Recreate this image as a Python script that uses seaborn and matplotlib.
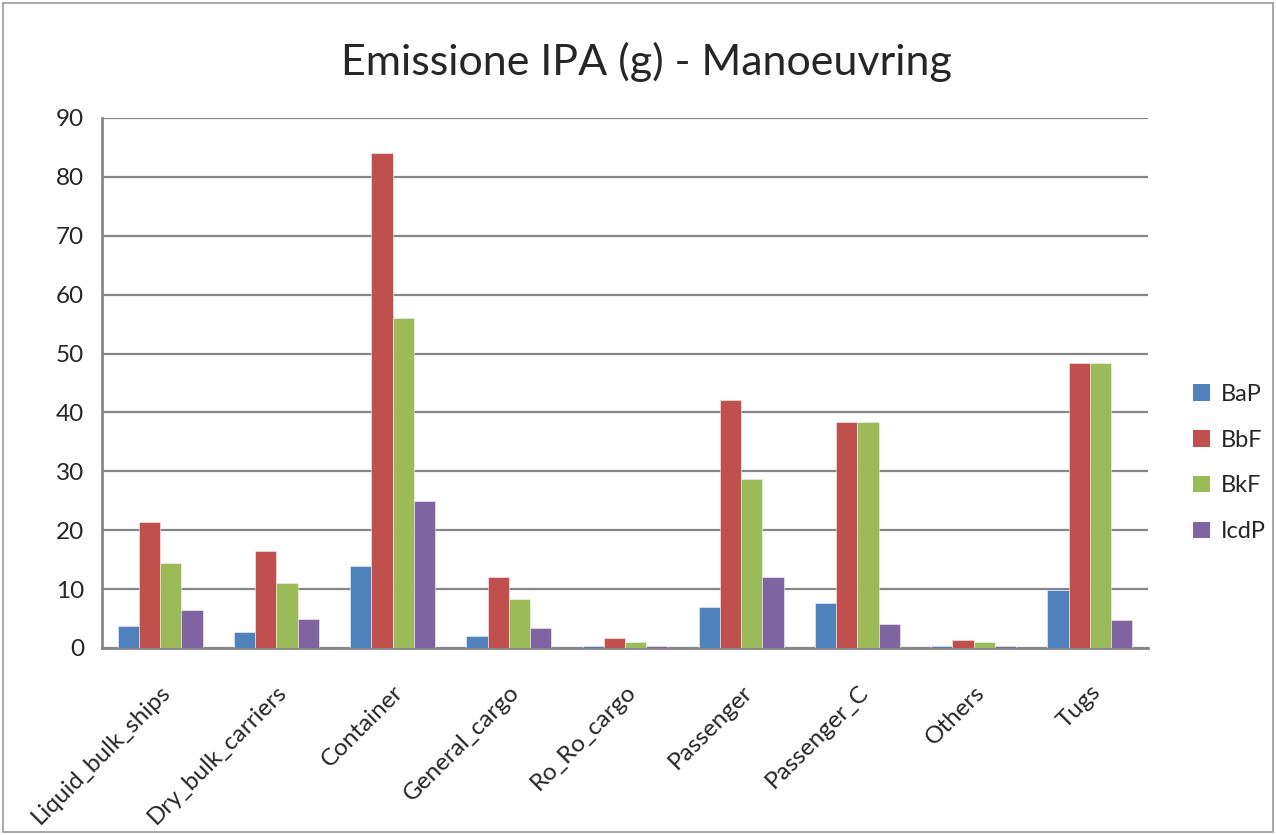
import matplotlib
matplotlib.use("Agg")
import matplotlib.pyplot as plt
import matplotlib.patches as mpatches
import seaborn as sns
import pandas as pd
import numpy as np

categories = ["Liquid_bulk_ships", "Dry_bulk_carriers", "Container", "General_cargo",
              "Ro_Ro_cargo", "Passenger", "Passenger_C", "Others", "Tugs"]
series = ["BaP", "BbF", "BkF", "IcdP"]
bap = [3.7, 2.8, 14.0, 2.1, 0.4, 7.0, 7.7, 0.4, 9.8]
bbf = [21.4, 16.4, 84.1, 12.0, 1.75, 42.1, 38.4, 1.4, 48.4]
bkf = [14.4, 11.1, 56.1, 8.4, 1.1, 28.7, 38.4, 1.0, 48.4]
icdp = [6.4, 5.0, 25.0, 3.45, 0.4, 12.0, 4.0, 0.4, 4.7]
colors = ["#4F81BD", "#C0504D", "#9BBB59", "#8064A2"]
title = "Emissione IPA (g) - Manoeuvring"

df = pd.DataFrame({
    "category": categories * 4,
    "series": sum([[s] * len(categories) for s in series], []),
    "value": bap + bbf + bkf + icdp,
})

sns.set_theme(style="white")
plt.rcParams["font.family"] = ["Lato", "DejaVu Sans"]

fig = plt.figure(figsize=(12.76, 8.35), dpi=100)
ax = fig.add_axes([102 / 1276, 1 - 648 / 835, (1148 - 102) / 1276, (648 - 118) / 835])

sns.barplot(data=df, x="category", y="value", hue="series", order=categories,
            hue_order=series, palette=colors, saturation=1, width=0.73, gap=0,
            edgecolor="#f4f4f4", linewidth=0.4, ax=ax, legend=False, zorder=3)

axis_grey = "#868686"
ax.set_ylim(0, 90)
ax.set_xlim(-0.5, len(categories) - 0.5)
ax.set_yticks(np.arange(0, 91, 10))
ax.yaxis.grid(True, color=axis_grey, linewidth=1.6, zorder=0)
ax.set_axisbelow(True)
for side in ["top", "right"]:
    ax.spines[side].set_visible(False)
for side in ["left", "bottom"]:
    ax.spines[side].set_color(axis_grey)
    ax.spines[side].set_linewidth(2.0)

ax.set_xlabel("")
ax.set_ylabel("")
ax.set_xticks(range(len(categories)))
ax.set_xticklabels(categories, rotation=45, ha="right", rotation_mode="anchor",
                   fontsize=17.5)
ax.set_xticks(np.arange(-0.5, len(categories), 1.0), minor=True)
ax.tick_params(axis="x", which="major", length=0, pad=24)
ax.tick_params(axis="x", which="minor", length=7, width=1.6, color=axis_grey, direction="out")
ax.tick_params(axis="y", length=7, width=1.6, color=axis_grey, direction="out",
               labelsize=17.5, pad=6)

fig.text(646 / 1276, 1 - 62 / 835, title, ha="center", va="center", fontsize=31)

handles = [mpatches.Patch(facecolor=c, edgecolor="none", label=s) for s, c in zip(series, colors)]
fig.legend(handles=handles, loc="center left", bbox_to_anchor=(1172 / 1276, 1 - 463 / 835),
           frameon=False, fontsize=17, handlelength=0.7, handleheight=0.7,
           labelspacing=1.05, handletextpad=0.45)

border = mpatches.Rectangle((3 / 1276, 3 / 835), 1 - 6 / 1276, 1 - 6 / 835,
                            transform=fig.transFigure, fill=False,
                            edgecolor="#9a9a9a", linewidth=1.2)
fig.patches.append(border)

fig.savefig("out.png", dpi=100)
